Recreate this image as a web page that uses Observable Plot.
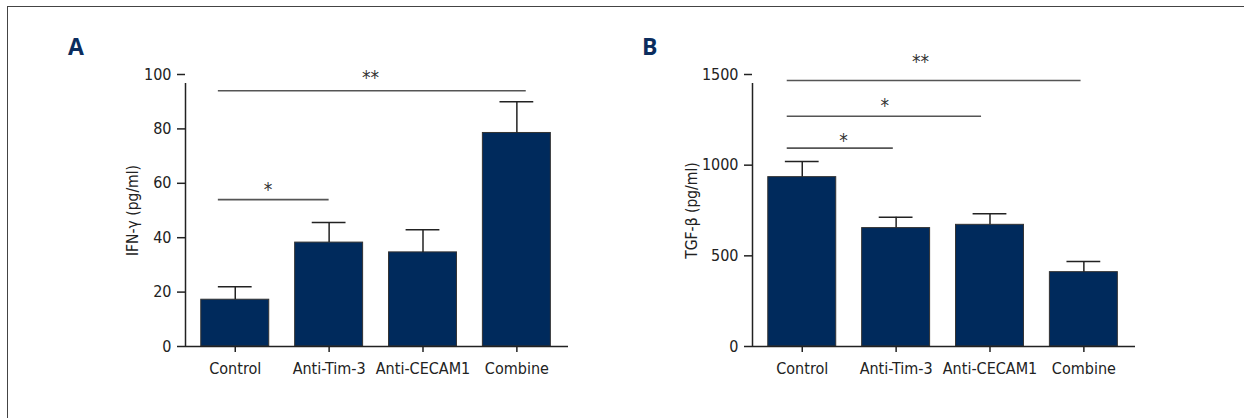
<!DOCTYPE html>
<html><head><meta charset="utf-8">
<script src="https://cdn.jsdelivr.net/npm/d3@7"></script>
<script src="https://cdn.jsdelivr.net/npm/@observablehq/plot@0.6"></script>
<style>
body{margin:0;background:#fff;}
#wrap{position:relative;width:1244px;height:418px;overflow:hidden;background:#fff;}
#frame{position:absolute;left:7px;top:6px;width:1300px;height:500px;border-left:1.5px solid #444;border-top:1.5px solid #444;}
.panel{position:absolute;top:0;}
.lab{position:absolute;font-family:"Open Sans",sans-serif;font-weight:700;font-size:23px;color:#0b2d5e;line-height:1;}
svg text{font-stretch:condensed;}
</style></head><body>
<div id="wrap"><div id="frame"></div>
<div class="lab" style="left:68px;top:35px">A</div>
<div class="lab" style="left:642px;top:35px">B</div>
<div id="pa" class="panel" style="left:0"></div>
<div id="pb" class="panel" style="left:622px"></div>
</div>
<script>
// ---- data ----
const categories = ["Control", "Anti-Tim-3", "Anti-CECAM1", "Combine"];
const ifnMean = [17.2, 38.2, 34.6, 78.5];
const ifnUpper = [22, 45.6, 42.9, 90];
const tgfMean = [934, 653, 671, 410];
const tgfUpper = [1020, 713, 732, 469];
const ifnTicks = [0, 20, 40, 60, 80, 100];
const tgfTicks = [0, 500, 1000, 1500];
// significance brackets: from/to in category-index units, y in data units
const sigA = [
  {from: -0.18, to: 1.0, y: 54, label: "*", sx: 0.35, sy: 59.5},
  {from: -0.18, to: 3.1, y: 94, label: "**", sx: 1.44, sy: 100.5}
];
const sigB = [
  {from: -0.16, to: 0.97, y: 1094, label: "*", sx: 0.44, sy: 1164},
  {from: -0.16, to: 1.91, y: 1270, label: "*", sx: 0.88, sy: 1357},
  {from: -0.16, to: 2.97, y: 1467, label: "**", sx: 1.26, sy: 1596}
];
const xDomain = [-0.53, 3.55];
const FONT = '"DejaVu Sans Condensed", "DejaVu Sans", sans-serif';

function panel({values, upper, domain, ticks, label, sig, marginLeft, marginRight, titleDx}) {
  const data = categories.map((c, i) => ({c, i, v: values[i], e: upper[i]}));
  return Plot.plot({
    width: 622, height: 418,
    marginTop: 74, marginBottom: 72, marginLeft, marginRight,
    style: {fontFamily: FONT, fontSize: "16px", color: "#222", background: "transparent", overflow: "visible"},
    x: {domain: xDomain, axis: null},
    y: {domain, axis: null},
    marks: [
      Plot.rectY(data, {x1: d => d.i - 0.362, x2: d => d.i + 0.362, y1: 0, y2: "v", fill: "#002a5c", stroke: "#333", strokeWidth: 1}),
      Plot.ruleX(data, {x: "i", y1: "v", y2: "e", stroke: "#222", strokeWidth: 1.5}),
      Plot.ruleY(data, {x1: d => d.i - 0.18, x2: d => d.i + 0.18, y: "e", stroke: "#222", strokeWidth: 1.5}),
      Plot.ruleY(sig, {x1: "from", x2: "to", y: "y", stroke: "#555", strokeWidth: 1.6}),
      Plot.text(sig, {x: "sx", y: "sy", text: "label", fontSize: 19, fill: "#333", dy: 5}),
      Plot.axisY({ticks, tickFormat: d => String(d), tickSize: 8, tickPadding: 6, label: null, anchor: "left", strokeWidth: 1.5, fill: "#222"}),
      Plot.axisX({ticks: [0, 1, 2, 3], tickFormat: i => categories[i], tickSize: 6, tickPadding: 10, label: null, strokeWidth: 1.5, fill: "#222"}),
      Plot.ruleX([xDomain[0]], {y1: 0, y2: domain[1], insetBottom: -9, stroke: "#222", strokeWidth: 1.5}),
      Plot.ruleY([0], {stroke: "#222", strokeWidth: 1.5}),
      Plot.text([label], {frameAnchor: "left", rotate: -90, dx: titleDx, textAnchor: "middle", lineAnchor: "middle", fontSize: 15.5, fill: "#222"})
    ]
  });
}

document.getElementById("pa").append(panel({
  values: ifnMean, upper: ifnUpper, domain: [0, 100], ticks: ifnTicks,
  label: "IFN-γ (pg/ml)", sig: sigA, marginLeft: 185, marginRight: 54, titleDx: -52
}));
document.getElementById("pb").append(panel({
  values: tgfMean, upper: tgfUpper, domain: [0, 1500], ticks: tgfTicks,
  label: "TGF-β (pg/ml)", sig: sigB, marginLeft: 130, marginRight: 109, titleDx: -60
}));
</script>
</body></html>
